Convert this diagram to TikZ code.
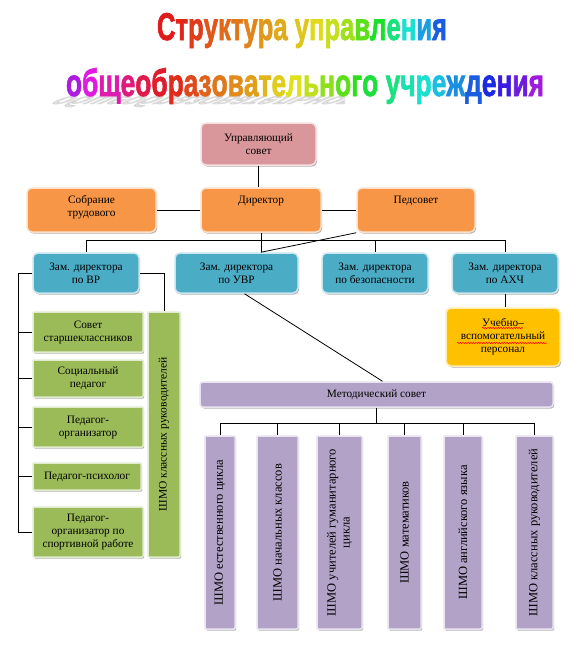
\documentclass[tikz,border=0pt]{standalone}
\usepackage{fontspec}
\setmainfont{Liberation Serif}
\newfontfamily\boxfont{Liberation Serif}
\newfontfamily\titlefont[FakeBold=2]{Liberation Sans Bold}
\usetikzlibrary{shadows,calc,decorations.pathmorphing}
\definecolor{cPink}{RGB}{217,150,155}
\definecolor{cOrange}{RGB}{247,150,70}
\definecolor{cBlue}{RGB}{75,172,198}
\definecolor{cYellow}{RGB}{255,192,0}
\definecolor{cGreen}{RGB}{155,187,89}
\definecolor{cPurple}{RGB}{178,162,199}
\newcommand\tlc[2]{{\color[Hsb]{#1,0.88,0.88}#2}}
\begin{document}
\begin{tikzpicture}[x=1pt,y=-1pt,
  boxbase/.style={line width=1.5pt, align=center, inner sep=0pt,
    font=\boxfont\fontsize{11.3}{13}\selectfont,
    drop shadow={shadow xshift=1.2pt,shadow yshift=-1.5pt,opacity=.3,fill=black}},
  rbox/.style={boxbase, rounded corners=5pt, fill=#1, draw=#1!30!white},
  sbox/.style={boxbase, rounded corners=1pt, fill=#1, draw=#1!30!white},
  conn/.style={draw=black, line width=0.8pt},
  lbl/.style={align=center, inner sep=0pt, font=\boxfont\fontsize{11.3}{13}\selectfont},
  vlbl/.style={align=center, inner sep=0pt, rotate=90, font=\boxfont\fontsize{12.5}{14}\selectfont},
  vlblg/.style={align=center, inner sep=0pt, rotate=90, font=\boxfont\fontsize{11.5}{13}\selectfont},
  wavy/.style={draw=red, line width=0.5pt, decorate, decoration={snake, amplitude=0.7pt, segment length=2.6pt}}
]
\fill[white] (0,0) rectangle (576,648);
\useasboundingbox (0,0) rectangle (576,648);

% ---------- title ----------
\node[anchor=base, inner sep=0pt] (t1) at (302,40) {\resizebox{290pt}{27pt}{\titlefont
  \tlc{0}{С}\tlc{3}{т}\tlc{10}{р}\tlc{18}{у}\tlc{24}{к}\tlc{28}{т}\tlc{32}{у}\tlc{38}{р}\tlc{44}{а} \tlc{52}{у}\tlc{58}{п}\tlc{68}{р}\tlc{80}{а}\tlc{100}{в}\tlc{125}{л}\tlc{150}{е}\tlc{175}{н}\tlc{200}{и}\tlc{220}{я}}};
\begin{scope}
\clip (40,95) rectangle (345,120);
\begin{scope}[shift={(305,96)}]
\node[transform shape, cm={1,0,-0.9,-0.4,(0,0)}, anchor=base, inner sep=0pt, opacity=0.25] (refl) at (0,0)
  {\resizebox{478pt}{28pt}{\titlefont\color{gray}общеобразовательного учреждения}};
\end{scope}
\end{scope}
\node[anchor=base, inner sep=0pt] (t2) at (305,96) {\resizebox{478pt}{28pt}{\titlefont
  \tlc{285}{о}\tlc{300}{б}\tlc{315}{щ}\tlc{330}{е}\tlc{345}{о}\tlc{355}{б}\tlc{5}{р}\tlc{14}{а}\tlc{22}{з}\tlc{28}{о}\tlc{34}{в}\tlc{40}{а}\tlc{47}{т}\tlc{54}{е}\tlc{60}{л}\tlc{70}{ь}\tlc{85}{н}\tlc{100}{о}\tlc{115}{г}\tlc{130}{о} \tlc{150}{у}\tlc{165}{ч}\tlc{175}{р}\tlc{190}{е}\tlc{205}{ж}\tlc{220}{д}\tlc{235}{е}\tlc{250}{н}\tlc{265}{и}\tlc{280}{я}}};

% ---------- top rows ----------
\node[rbox=cPink, minimum width=115, minimum height=42] (ups) at (258.5,144) {Управляющий\\совет};
\node[rbox=cOrange, minimum width=129, minimum height=44] (sob) at (91.5,210) {};
\node[lbl, anchor=north] (sobt) at ([yshift=-8pt]sob.north) {Собрание\\трудового};
\node[rbox=cOrange, minimum width=120, minimum height=44] (dir) at (261,210) {};
\node[lbl, anchor=north] (dirt) at ([yshift=-9pt]dir.north) {Директор};
\node[rbox=cOrange, minimum width=118, minimum height=44] (ped) at (416,210) {};
\node[lbl, anchor=north] (pedt) at ([yshift=-9pt]ped.north) {Педсовет};

\node[rbox=cBlue, minimum width=106, minimum height=40] (zvr) at (86,273) {Зам. директора\\по ВР};
\node[rbox=cBlue, minimum width=123, minimum height=40] (zuvr) at (236.5,273) {Зам. директора\\по УВР};
\node[rbox=cBlue, minimum width=106, minimum height=40] (zbez) at (375,273) {Зам. директора\\по безопасности};
\node[rbox=cBlue, minimum width=106, minimum height=40] (zahch) at (505,273) {Зам. директора\\по АХЧ};
\node[rbox=cYellow, minimum width=114, minimum height=58] (uvp) at (503,337) {Учебно–\\вспомогательный\\персонал};

% ---------- green column ----------
\node[sbox=cGreen, minimum width=110, minimum height=40] (g1) at (88,332) {Совет\\старшеклассников};
\node[sbox=cGreen, minimum width=110, minimum height=37] (g2) at (88,378.5) {Социальный\\педагог};
\node[sbox=cGreen, minimum width=110, minimum height=40] (g3) at (88,427) {Педагог-\\организатор};
\node[sbox=cGreen, minimum width=108, minimum height=27] (g4) at (87,476.5) {Педагог-психолог};
\node[sbox=cGreen, minimum width=110, minimum height=50] (g5) at (88,532) {Педагог-\\организатор по\\спортивной работе};
\node[sbox=cGreen, minimum width=32, minimum height=245] (gshmo) at (164,434.5) {};
\node[vlblg] (gshmot) at (gshmo.center) {ШМО классных руководителей};

% ---------- methodical council ----------
\node[rbox=cPurple, rounded corners=3pt, minimum width=353, minimum height=25] (met) at (376.5,394.5) {Методический совет};
\node[sbox=cPurple, minimum width=30, minimum height=193] (p1) at (220,532.5) {};
\node[sbox=cPurple, minimum width=41, minimum height=193] (p2) at (277.5,532.5) {};
\node[sbox=cPurple, minimum width=45, minimum height=193] (p3) at (339.5,532.5) {};
\node[sbox=cPurple, minimum width=33, minimum height=193] (p4) at (404.5,532.5) {};
\node[sbox=cPurple, minimum width=38, minimum height=193] (p5) at (463,532.5) {};
\node[sbox=cPurple, minimum width=37, minimum height=193] (p6) at (534.5,532.5) {};
\node[vlbl] (p1t) at (p1.center) {ШМО естественного цикла};
\node[vlbl] (p2t) at (p2.center) {ШМО начальных классов};
\node[vlbl] (p3t) at (p3.center) {ШМО учителей гуманитарного\\цикла};
\node[vlbl] (p4t) at (p4.center) {ШМО математиков};
\node[vlbl] (p5t) at (p5.center) {ШМО английского языка};
\node[vlbl] (p6t) at (p6.center) {ШМО классных руководителей};

% ---------- connectors ----------
\coordinate (bus) at (0,240);
\coordinate (brk) at (18,0);
\coordinate (mbus) at (0,423);
\draw[conn] (ups.south) -- (ups.south |- dir.north);
\draw[conn] (sob.east) -- (dir.west);
\draw[conn] (dir.east) -- (ped.west);
\draw[conn] (dir.south) -- (dir.south |- zuvr.north);
\draw[conn] (zvr.north |- bus) -- (zahch.north |- bus);
\foreach \n in {zvr,zbez,zahch} \draw[conn] (\n.north |- bus) -- (\n.north);
\draw[conn] (ped.south west) -- (dir.south |- zuvr.north);
\draw[conn] (zvr.west) -- (brk |- zvr.west) -- (brk |- g5.west) -- (g5.west);
\foreach \n in {g1,g2,g3,g4} \draw[conn] (brk |- \n.west) -- (\n.west);
\draw[conn] (zvr.east) -| (gshmo.north);
\draw[conn] (zahch.south) -- (zahch.south |- uvp.north);
\draw[conn] ([xshift=8pt]zuvr.south) -- ([xshift=6pt]met.north);
\draw[conn] (met.south) -- (met.south |- mbus);
\draw[conn] (p1.north |- mbus) -- (p6.north |- mbus);
\foreach \n in {p1,p2,p3,p4,p5,p6} \draw[conn] (\n.north |- mbus) -- (\n.north);

% spell-check squiggles
\draw[wavy] ($(uvp.center)+(-21,-9)$) -- ($(uvp.center)+(20,-9)$);
\draw[wavy] ($(uvp.center)+(-46,6)$) -- ($(uvp.center)+(44,6)$);
\end{tikzpicture}
\end{document}
